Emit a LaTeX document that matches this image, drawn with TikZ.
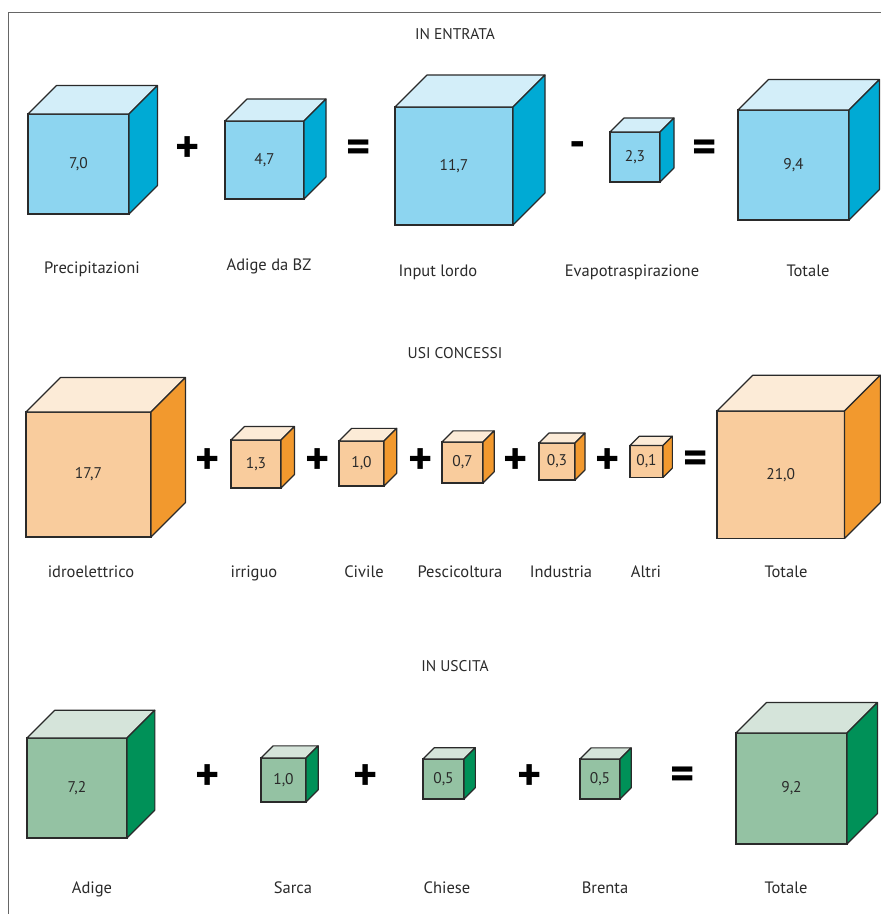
\documentclass[tikz,border=0pt]{standalone}
\usepackage{fontspec}
\setmainfont{PT Sans}
\definecolor{bfront}{HTML}{8DD5F0}
\definecolor{btop}{HTML}{D3EEF9}
\definecolor{bside}{HTML}{00AAD4}
\definecolor{ofront}{HTML}{F9CC9D}
\definecolor{otop}{HTML}{FCEBD7}
\definecolor{oside}{HTML}{F2992E}
\definecolor{gfront}{HTML}{94C2A3}
\definecolor{gtop}{HTML}{D5E4DA}
\definecolor{gside}{HTML}{009158}
\definecolor{ink}{HTML}{2A2A2A}
\definecolor{framegray}{HTML}{666666}
% #1 name, #2 x, #3 y (top-left of front face), #4 width, #5 height, #6 depth, #7 palette, #8 number
\newcommand\drawcube[8]{%
  \node[cubefront, fill=#7front, minimum width=#4pt, minimum height=#5pt, anchor=north west] (#1) at (#2,#3) {#8};
  \draw[cubeedge, fill=#7top] (#1.north west) -- ++(#6,-#6) -- ++(#4,0) -- (#1.north east) -- cycle;
  \draw[cubeedge, fill=#7side] (#1.north east) -- ++(#6,-#6) -- ++(0,#5) -- (#1.south east) -- cycle;
}
\begin{document}
\begin{tikzpicture}[x=1pt,y=-1pt,
  cubefront/.style={draw=ink, line width=1.1pt, rectangle, inner sep=0pt, outer sep=0pt,
    text=ink, font=\fontsize{15.5}{15.5}\selectfont},
  cubeedge/.style={draw=ink, line width=1.1pt, line join=round},
  op/.style={inner sep=0pt, text=black, font=\fontsize{46}{46}\selectfont\bfseries},
  lbl/.style={inner sep=0pt, anchor=base, text=ink, font=\fontsize{16.5}{16.5}\selectfont},
  hdr/.style={inner sep=0pt, anchor=base, text=ink, font=\fontsize{15.5}{15.5}\selectfont}]
\useasboundingbox (0,0) rectangle (881,914);
\fill[white] (0,0) rectangle (881,914);
% frame
\draw[framegray, line width=1.5pt] (8.5,914) -- (8.5,12.5) -- (881,12.5);

% ---------- IN ENTRATA ----------
\node[hdr] (h1) at (455,39) {IN ENTRATA};
\drawcube{b1}{28}{114}{101}{100}{28.5}{b}{7,0}
\drawcube{b2}{225}{121}{79}{78}{22}{b}{4,7}
\drawcube{b3}{395}{107}{118}{118}{32}{b}{11,7}
\drawcube{b4}{610}{132}{50}{50}{14}{b}{2,3}
\drawcube{b5}{738}{110}{111}{110}{30.5}{b}{9,4}
\node[op] (bp1) at (188,150) {+};
\node[op] (be1) at (358.5,151) {=};
\node[op] (bm1) at (577.5,150) {-};
\node[op] (be2) at (704.5,151) {=};
\node[lbl] (bl1) at (92,273) {Precipitazioni};
\node[lbl] (bl2) at (269,270) {Adige da BZ};
\node[lbl] (bl3) at (438,276) {Input lordo};
\node[lbl] (bl4) at (632,276.5) {Evapotraspirazione};
\node[lbl] (bl5) at (808,276.5) {Totale};

% ---------- USI CONCESSI ----------
\node[hdr] (h2) at (455,358) {USI CONCESSI};
\drawcube{o1}{26}{412}{125}{125}{34.5}{o}{17,7}
\drawcube{o2}{231}{440}{50}{48}{13.5}{o}{1,3}
\drawcube{o3}{339}{441}{45}{45}{12.7}{o}{1,0}
\drawcube{o4}{442}{442}{41}{41}{11.2}{o}{0,7}
\drawcube{o5}{539}{443}{36}{37}{10}{o}{0,3}
\drawcube{o6}{630}{445.5}{33}{32}{9.3}{o}{0,1}
\drawcube{o7}{717}{411}{127.5}{127.5}{35.8}{o}{21,0}
\node[op] (op1) at (208,462) {+};
\node[op] (op2) at (318,462) {+};
\node[op] (op3) at (421,462) {+};
\node[op] (op4) at (516,462) {+};
\node[op] (op5) at (608,462) {+};
\node[op] (oe1) at (696,462) {=};
\node[lbl] (ol1) at (91,577) {idroelettrico};
\node[lbl] (ol2) at (254,577) {irriguo};
\node[lbl] (ol3) at (364,577) {Civile};
\node[lbl] (ol4) at (460,577) {Pescicoltura};
\node[lbl] (ol5) at (561,577) {Industria};
\node[lbl] (ol6) at (646,577) {Altri};
\node[lbl] (ol7) at (786,577) {Totale};

% ---------- IN USCITA ----------
\node[hdr] (h3) at (455,671) {IN USCITA};
\drawcube{g1}{27}{738}{100}{100}{27.8}{g}{7,2}
\drawcube{g2}{261}{758}{45}{44}{12.2}{g}{1,0}
\drawcube{g3}{423}{759}{41}{40}{11.3}{g}{0,5}
\drawcube{g4}{580}{759}{40}{40}{11.2}{g}{0,5}
\drawcube{g5}{736}{733}{111}{111}{30.5}{g}{9,2}
\node[op] (gp1) at (208,778) {+};
\node[op] (gp2) at (366,778) {+};
\node[op] (gp3) at (530,778) {+};
\node[op] (ge1) at (683,778) {=};
\node[lbl] (gl1) at (92,893) {Adige};
\node[lbl] (gl2) at (293,893) {Sarca};
\node[lbl] (gl3) at (447,893) {Chiese};
\node[lbl] (gl4) at (605,893) {Brenta};
\node[lbl] (gl5) at (786,893) {Totale};
\end{tikzpicture}
\end{document}
